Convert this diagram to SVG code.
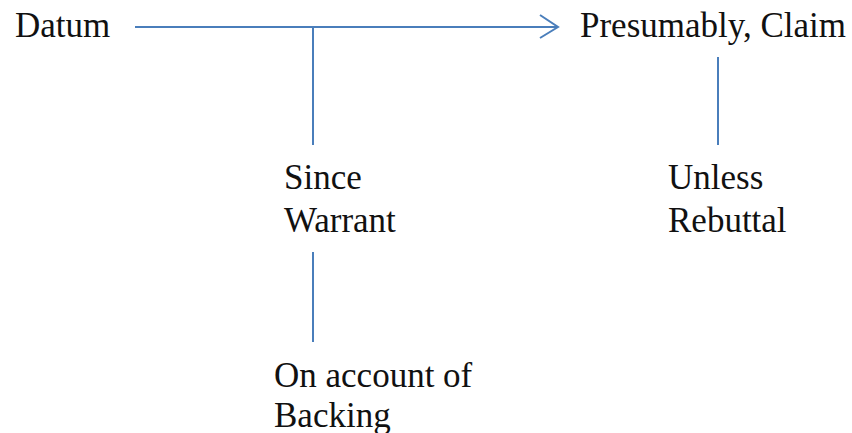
<svg xmlns="http://www.w3.org/2000/svg" width="852" height="433" viewBox="0 0 852 433">
<style>
text{font-family:"Liberation Serif","Times New Roman",serif;font-size:35px;fill:#111}
.c{stroke:#4a7ebb;stroke-width:2;fill:none}
</style>
<rect width="852" height="433" fill="#fff"/>
<g id="connectors">
<line class="c" x1="135" y1="27" x2="558" y2="27"/>
<polyline class="c" points="540,15 558,27 540,38" stroke-linejoin="miter"/>
<line class="c" x1="313" y1="27" x2="313" y2="145"/>
<line class="c" x1="313" y1="252" x2="313" y2="342"/>
<line class="c" x1="718" y1="57" x2="718" y2="145"/>
</g>
<g id="datum"><text x="15" y="37">Datum</text></g>
<g id="claim"><text x="580" y="37">Presumably, Claim</text></g>
<g id="warrant"><text x="284" y="189">Since</text><text x="284" y="232">Warrant</text></g>
<g id="rebuttal"><text x="668" y="189">Unless</text><text x="668" y="232">Rebuttal</text></g>
<g id="backing"><text x="274" y="387">On account of</text><text x="274" y="427">Backing</text></g>
</svg>
